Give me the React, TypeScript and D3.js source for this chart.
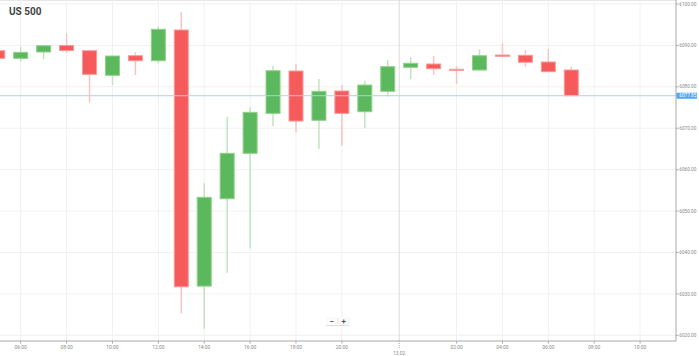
import React from "react";
import * as d3 from "d3";

const title = "US 500";
const hours = ["05:00","06:00","07:00","08:00","09:00","10:00","11:00","12:00","13:00","14:00","15:00","16:00","17:00","18:00","19:00","20:00","21:00","23:00","00:00","01:00","02:00","03:00","04:00","05:00","06:00","07:00"];
const opens =  [6088.72,6086.88,6088.41,6089.98,6088.72,6082.78,6087.51,6086.30,6093.72,6031.88,6052.97,6063.94,6073.60,6083.82,6071.91,6078.99,6073.99,6078.91,6084.71,6085.51,6084.23,6084.06,6087.68,6087.61,6085.99,6084.06];
const highs =  [6089.00,6089.69,6090.10,6092.92,6088.80,6087.50,6088.41,6094.52,6098.00,6056.69,6072.78,6075.05,6085.10,6085.51,6081.88,6080.43,6081.47,6086.47,6087.13,6087.44,6085.02,6089.06,6090.65,6088.89,6089.13,6084.86];
const lows =   [6086.50,6086.06,6086.64,6088.16,6076.16,6080.43,6082.85,6085.68,6025.29,6021.57,6035.10,6040.99,6070.53,6069.01,6064.98,6065.77,6069.98,6077.66,6081.81,6082.92,6080.68,6083.82,6087.30,6084.86,6083.60,6077.80];
const closes = [6086.88,6088.33,6089.93,6088.77,6083.02,6087.44,6086.30,6093.89,6031.71,6053.31,6063.94,6073.84,6083.89,6071.74,6078.91,6073.60,6080.43,6084.86,6085.68,6084.37,6083.99,6087.51,6087.37,6085.92,6083.65,6077.85];

const yTicks = [6100, 6090, 6080, 6070, 6060, 6050, 6040, 6030, 6020];
const xTickIndex = [1, 3, 5, 7, 9, 11, 13, 15, 20, 22, 24, 26, 28];
const xTickLabels = ["06:00","08:00","10:00","12:00","14:00","16:00","18:00","20:00","02:00","04:00","06:00","08:00","10:00"];
const daySepIndex = 17.5;
const daySepLabel = "13.02";
const currentPrice = 6077.85;

const W = 699, H = 356;
const plotRight = 676, plotBottom = 341;

export default function App() {
  const x = d3.scaleLinear().domain([1, 28]).range([20.7, 640.1]);
  const y = d3.scaleLinear().domain([6020, 6100]).range([335.3, 4]);
  const bw = 15;
  const green = "#5cb85c", red = "#f65a5a";
  const greenWick = "#c2e5bf", redWick = "#f8c4c4";
  const greenEdge = "#8fd18c", redEdge = "#f99a9a";
  const font = "Roboto, 'Open Sans', sans-serif";
  const fs = 4.7;

  return (
    <svg width={W} height={H} style={{ position: "absolute", left: 0, top: 0, background: "#fff" }}>
      <defs>
        <clipPath id="plot"><rect x={0} y={0} width={plotRight} height={plotBottom} /></clipPath>
        <filter id="sh" x="-20%" y="-40%" width="140%" height="180%">
          <feDropShadow dx="0" dy="0.5" stdDeviation="0.6" floodColor="#000" floodOpacity="0.25" />
        </filter>
      </defs>
      <line x1={0} x2={plotRight} y1={0.5} y2={0.5} stroke="#e6e6e6" />
      {yTicks.map((t) => (
        <line key={"hg" + t} x1={0} x2={plotRight} y1={y(t)} y2={y(t)} stroke="#f1f1f1" />
      ))}
      {xTickIndex.map((i) => (
        <line key={"vg" + i} x1={x(i)} x2={x(i)} y1={0} y2={plotBottom} stroke="#f1f1f1" />
      ))}
      <line x1={x(daySepIndex)} x2={x(daySepIndex)} y1={0} y2={plotBottom} stroke="#dcdcdc" />
      <g clipPath="url(#plot)">
        {opens.map((o, i) => {
          const c = closes[i];
          const up = c >= o;
          const cx = x(i);
          const top = y(Math.max(o, c));
          const bot = y(Math.min(o, c));
          return (
            <g key={i}>
              <line x1={cx} x2={cx} y1={y(highs[i])} y2={y(lows[i])} stroke={up ? greenWick : redWick} strokeWidth={1.5} />
              <rect x={cx - bw / 2 + 0.5} y={top} width={bw - 1} height={Math.max(1, bot - top)} fill={up ? green : red} stroke={up ? greenEdge : redEdge} strokeWidth={1} />
            </g>
          );
        })}
      </g>
      <line x1={0} x2={plotRight} y1={y(currentPrice)} y2={y(currentPrice)} stroke="#a9d2f3" strokeWidth={1} />
      <line x1={plotRight} x2={plotRight} y1={0} y2={plotBottom} stroke="#a8a8a8" />
      <line x1={0} x2={plotRight} y1={plotBottom} y2={plotBottom} stroke="#a8a8a8" />
      {yTicks.map((t) => (
        <g key={"yl" + t}>
          <line x1={plotRight} x2={plotRight + 2.5} y1={y(t)} y2={y(t)} stroke="#a8a8a8" />
          <text x={plotRight + 3.3} y={y(t)} dy="0.35em" fontSize={fs} fill="#8a8a8a" fontFamily={font}>{t.toFixed(2)}</text>
        </g>
      ))}
      <rect x={plotRight + 0.5} y={y(currentPrice) - 3} width={20.5} height={6} fill="#4ea7f2" />
      <text x={plotRight + 3.3} y={y(currentPrice)} dy="0.35em" fontSize={fs} fill="#fff" fontFamily={font}>{currentPrice.toFixed(2)}</text>
      {xTickIndex.map((i, k) => (
        <g key={"xl" + i}>
          <line x1={x(i)} x2={x(i)} y1={plotBottom} y2={plotBottom + 2.5} stroke="#a8a8a8" />
          <text x={x(i)} y={348.5} textAnchor="middle" fontSize={4.9} fill="#8a8a8a" fontFamily={font}>{xTickLabels[k]}</text>
        </g>
      ))}
      <line x1={x(daySepIndex)} x2={x(daySepIndex)} y1={plotBottom} y2={plotBottom + 8} stroke="#a8a8a8" strokeDasharray="1,1" />
      <text x={x(daySepIndex)} y={355} textAnchor="middle" fontSize={4.9} fill="#8a8a8a" fontFamily={font}>{daySepLabel}</text>
      <text x={9} y={15} fontSize={10} fontWeight="bold" fill="#444" fontFamily={font}>{title}</text>
      <g filter="url(#sh)">
        <rect x={326} y={317} width={23.5} height={8} rx={1} fill="#fbfbfb" />
      </g>
      <line x1={337.7} x2={337.7} y1={318} y2={324} stroke="#e6e6e6" />
      <text x={331.8} y={321} dy="0.35em" textAnchor="middle" fontSize={8} fontWeight="bold" fill="#555" fontFamily={font}>−</text>
      <text x={343.6} y={321} dy="0.35em" textAnchor="middle" fontSize={8} fontWeight="bold" fill="#555" fontFamily={font}>+</text>
    </svg>
  );
}
